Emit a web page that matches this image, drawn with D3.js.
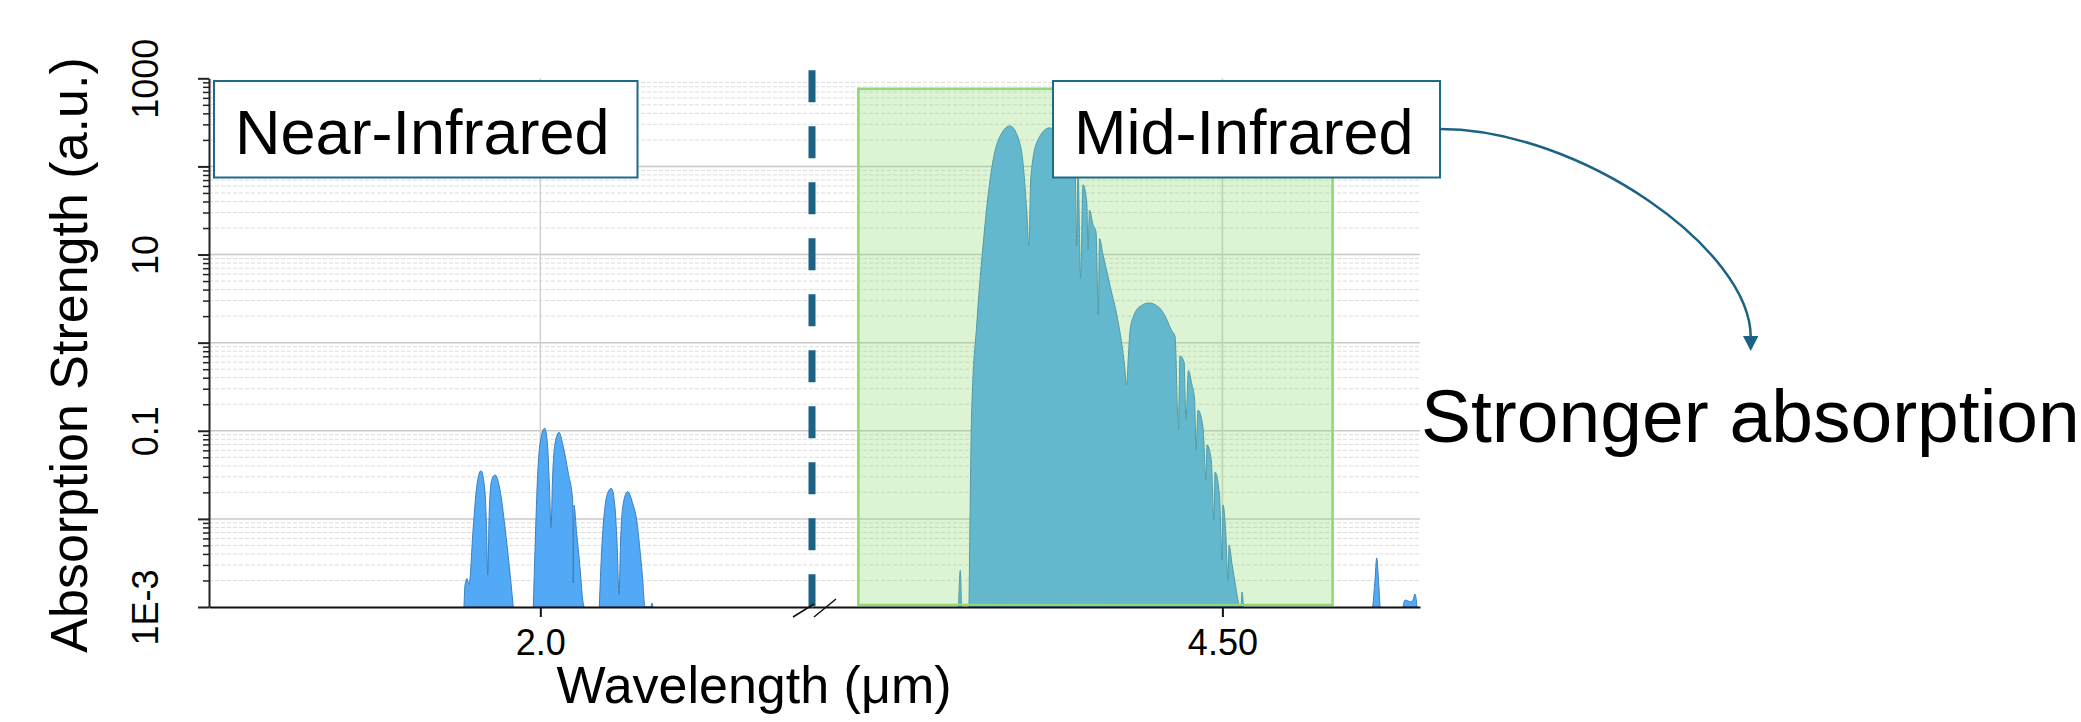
<!DOCTYPE html>
<html>
<head>
<meta charset="utf-8">
<script src="https://cdn.jsdelivr.net/npm/d3@7"></script>
<style>
  html, body { margin: 0; padding: 0; background: #fff; }
  svg { display: block; font-family: "Liberation Sans", Arial, sans-serif; }
</style>
</head>
<body>
<svg id="chart" width="2081" height="722"></svg>
<script>
// broken wavelength axis: near-IR segment | mid-IR segment (um)
var leftDomain = [1.75, 2.205];
var rightDomain = [3.96, 4.76];
var xTicksLeft = [2.0];
var xTicksRight = [4.5];

var yDecades = [1e-3, 1e-2, 1e-1, 1, 10, 100, 1000];
var yLabelValues = [1000, 10, 0.1, 0.001];
var yLabelTexts = ['1000', '10', '0.1', '1E-3'];

var midIrRange = [4.021, 4.645];
var highlightTop = 760;

// [wavelength um, absorption a.u.]
var nirBandA = [
  [1.9424, 0.001], [1.9432, 0.00178], [1.9447, 0.0021], [1.9462, 0.0018],
  [1.9494, 0.0081], [1.952, 0.0232], [1.9552, 0.0352], [1.9583, 0.0197],
  [1.9595, 0.0069], [1.9603, 0.0023], [1.9615, 0.0126], [1.9633, 0.0276],
  [1.9658, 0.0315], [1.9696, 0.0213], [1.9733, 0.0081], [1.9771, 0.00243],
  [1.9796, 0.001]
];
var nirBandB = [
  [1.9947, 0.001], [1.996, 0.00444], [1.9977, 0.0254], [1.9998, 0.0721],
  [2.0033, 0.107], [2.0053, 0.0721], [2.0068, 0.0254], [2.0081, 0.0079],
  [2.0091, 0.0254], [2.0111, 0.0721], [2.0141, 0.096], [2.0173, 0.066],
  [2.0211, 0.033], [2.0244, 0.0164], [2.0248, 0.00187], [2.0254, 0.0143],
  [2.0274, 0.0069], [2.0299, 0.00287], [2.032, 0.0012], [2.033, 0.001]
];
var nirBandC = [
  [2.0445, 0.001], [2.0463, 0.00444], [2.0488, 0.01375], [2.0513, 0.0204],
  [2.0536, 0.0222], [2.0563, 0.01375], [2.0581, 0.00444], [2.0594, 0.00137],
  [2.0606, 0.00576], [2.0626, 0.015], [2.0659, 0.0204], [2.0697, 0.015],
  [2.0727, 0.0097], [2.0752, 0.00444], [2.0769, 0.0024], [2.079, 0.001],
  [2.0834, 0.001], [2.0842, 0.00111], [2.085, 0.001]
];
var mirSpike = [[4.1528, 0.001], [4.1551, 0.0026], [4.1567, 0.001]];
var mirBand = [
  [4.1666, 0.001], [4.1679, 0.0097], [4.1699, 0.144], [4.1771, 1.76],
  [4.185, 12.5], [4.1934, 61.7], [4.2043, 190], [4.2205, 288],
  [4.2343, 172], [4.2425, 32], [4.2453, 12.6], [4.2479, 74],
  [4.2561, 190], [4.2725, 274], [4.2942, 158], [4.3021, 118],
  [4.306, 105], [4.3084, 12.6], [4.31, 95], [4.3134, 5.4],
  [4.3166, 62], [4.3216, 38.5], [4.3232, 11.3], [4.3251, 32],
  [4.3297, 22], [4.3337, 18], [4.3368, 2.06], [4.3383, 15.2],
  [4.3429, 9.9], [4.3488, 6.0], [4.3534, 3.96], [4.3597, 2.35],
  [4.3679, 0.925], [4.3712, 0.558], [4.3739, 0.331], [4.3764, 0.724],
  [4.3784, 1.36], [4.3837, 2.06], [4.3925, 2.61], [4.4034, 2.82],
  [4.4113, 2.7], [4.4197, 2.35], [4.4258, 1.91], [4.4334, 1.36],
  [4.4376, 1.19], [4.4422, 0.102], [4.4442, 0.706], [4.4495, 0.604],
  [4.4521, 0.133], [4.4553, 0.481], [4.46, 0.331], [4.4634, 0.23],
  [4.4653, 0.0605], [4.4679, 0.172], [4.4745, 0.108], [4.4784, 0.0276],
  [4.4797, 0.069], [4.4853, 0.0467], [4.4889, 0.0097], [4.4903, 0.034],
  [4.4962, 0.0183], [4.4995, 0.0034], [4.5008, 0.0144], [4.5043, 0.0073],
  [4.5074, 0.002], [4.5087, 0.00506], [4.5126, 0.00311], [4.5179, 0.00162],
  [4.5205, 0.0012], [4.5232, 0.001], [4.5245, 0.001], [4.5258, 0.00148],
  [4.5277, 0.001]
];
var mirTailA = [[4.6978, 0.001], [4.7008, 0.002], [4.703, 0.0036], [4.7054, 0.002], [4.7074, 0.001]];
var mirTailB = [
  [4.7376, 0.001], [4.7403, 0.0012], [4.7442, 0.00117], [4.7482, 0.00114],
  [4.7507, 0.0012], [4.7534, 0.0014], [4.7561, 0.001]
];

var svg = d3.select('#chart');
var axisX = 209, axisRight = 1420, breakX = 812;

var xLeft = d3.scaleLinear().domain(leftDomain).range([axisX, breakX]);
var xRight = d3.scaleLinear().domain(rightDomain).range([breakX, axisRight]);
var y = d3.scaleLog().domain([1e-3, 1e3]).range([607, 78.3]);

var minorValues = [];
yDecades.slice(0, -1).forEach(function(d) {
  for (var k = 2; k <= 9; k++) minorValues.push(d * k);
});

// grid
var grid = svg.append('g');
grid.selectAll('.minor').data(minorValues).enter().append('line')
  .attr('x1', axisX).attr('x2', axisRight)
  .attr('y1', function(d) { return y(d); }).attr('y2', function(d) { return y(d); })
  .attr('stroke', '#dcdcdc').attr('stroke-width', 1).attr('stroke-dasharray', '4,2');
grid.selectAll('.major').data(yDecades.slice(1, -1)).enter().append('line')
  .attr('x1', axisX).attr('x2', axisRight)
  .attr('y1', function(d) { return y(d); }).attr('y2', function(d) { return y(d); })
  .attr('stroke', '#c8c8c8').attr('stroke-width', 1.5);
grid.selectAll('.vgrid')
  .data(xTicksLeft.map(xLeft).concat(xTicksRight.map(xRight)))
  .enter().append('line')
  .attr('x1', function(d) { return d; }).attr('x2', function(d) { return d; })
  .attr('y1', y(1e3)).attr('y2', y(1e-3))
  .attr('stroke', '#d0d0d0').attr('stroke-width', 1.5);

// spectra
function makeArea(xs) {
  return d3.area()
    .x(function(d) { return xs(d[0]); })
    .y0(y(1e-3))
    .y1(function(d) { return y(d[1]); })
    .curve(d3.curveMonotoneX);
}
var spectra = svg.append('g');
[nirBandA, nirBandB, nirBandC].forEach(function(band) {
  spectra.append('path').datum(band).attr('d', makeArea(xLeft))
    .attr('fill', '#52aaf7').attr('stroke', '#3a7fc0').attr('stroke-width', 1);
});
[mirSpike, mirBand, mirTailA, mirTailB].forEach(function(band) {
  spectra.append('path').datum(band).attr('d', makeArea(xRight))
    .attr('fill', '#52aaf7').attr('stroke', '#3a7fc0').attr('stroke-width', 1);
});

// mid-IR highlight
svg.append('rect')
  .attr('x', xRight(midIrRange[0]))
  .attr('y', y(highlightTop))
  .attr('width', xRight(midIrRange[1]) - xRight(midIrRange[0]))
  .attr('height', y(1e-3) - 2 - y(highlightTop))
  .attr('fill', 'rgba(140,220,110,0.3)')
  .attr('stroke', '#8fd873').attr('stroke-width', 2.5);

// divider at the axis break
svg.append('line')
  .attr('x1', breakX).attr('x2', breakX)
  .attr('y1', y(1e3) - 8).attr('y2', y(1e-3))
  .attr('stroke', '#1a6384').attr('stroke-width', 7)
  .attr('stroke-dasharray', '32,24');

// axes
var yAxisMinor = svg.append('g').attr('transform', 'translate(' + axisX + ',0)')
  .call(d3.axisLeft(y).tickValues(minorValues).tickSize(6).tickFormat(''));
yAxisMinor.select('.domain').remove();
yAxisMinor.selectAll('line').attr('stroke', '#222').attr('stroke-width', 1.5);

var yAxis = svg.append('g').attr('transform', 'translate(' + axisX + ',0)')
  .call(d3.axisLeft(y).tickValues(yDecades).tickSize(11).tickSizeOuter(0)
    .tickFormat(function(d) {
      var i = yLabelValues.findIndex(function(v) { return Math.abs(Math.log10(v) - Math.log10(d)) < 1e-6; });
      return i >= 0 ? yLabelTexts[i] : '';
    }));
yAxis.select('.domain').attr('stroke', '#222').attr('stroke-width', 2);
yAxis.selectAll('line').attr('stroke', '#222').attr('stroke-width', 2);
yAxis.selectAll('text')
  .attr('transform', 'rotate(-90)')
  .attr('x', 0).attr('y', -51).attr('dy', null)
  .attr('text-anchor', 'middle')
  .attr('font-size', 36).attr('font-family', '"Liberation Sans", Arial, sans-serif')
  .attr('fill', '#000');

function styleX(g) {
  g.select('.domain').attr('stroke', '#111').attr('stroke-width', 2);
  g.selectAll('line').attr('stroke', '#111').attr('stroke-width', 2);
  g.selectAll('text').attr('y', 48).attr('dy', null)
    .attr('font-size', 36).attr('font-family', '"Liberation Sans", Arial, sans-serif')
    .attr('fill', '#000');
}
svg.append('g').attr('transform', 'translate(0,' + y(1e-3) + ')')
  .call(d3.axisBottom(xLeft).tickValues(xTicksLeft).tickFormat(d3.format('.1f')).tickSize(10).tickSizeOuter(0))
  .call(styleX);
svg.append('g').attr('transform', 'translate(0,' + y(1e-3) + ')')
  .call(d3.axisBottom(xRight).tickValues(xTicksRight).tickFormat(d3.format('.2f')).tickSize(10).tickSizeOuter(0))
  .call(styleX);

// break marks
var by = y(1e-3);
svg.append('path')
  .attr('d', 'M' + (breakX - 19) + ',' + (by + 10) + 'L' + (breakX + 2) + ',' + (by - 3) +
             'M' + (breakX + 2) + ',' + (by + 10) + 'L' + (breakX + 24) + ',' + (by - 8))
  .attr('stroke', '#111').attr('stroke-width', 1.5).attr('fill', 'none');

// labels in boxes
function labelBox(x, yTop, w, h, text) {
  svg.append('rect').attr('x', x).attr('y', yTop).attr('width', w).attr('height', h)
    .attr('fill', '#fff').attr('stroke', '#1f6a8a').attr('stroke-width', 2);
  svg.append('text').attr('x', x + 21).attr('y', yTop + 72.5)
    .attr('font-size', 63).attr('fill', '#000').text(text);
}
labelBox(214, 81, 423.5, 96.5, 'Near-Infrared');
labelBox(1053, 81, 387, 96.5, 'Mid-Infrared');

// arrow
svg.append('path')
  .attr('d', 'M1440,129 C1580,129 1752,250 1750.7,338')
  .attr('fill', 'none').attr('stroke', '#1a6384').attr('stroke-width', 2.5);
svg.append('path')
  .attr('d', 'M1743,336 L1758.4,336 L1750.7,351 Z')
  .attr('fill', '#1a6384');

svg.append('text').attr('x', 1421).attr('y', 442)
  .attr('font-size', 75).attr('fill', '#000').text('Stronger absorption');

// axis titles
svg.append('text')
  .attr('transform', 'translate(87,355) rotate(-90)')
  .attr('text-anchor', 'middle').attr('font-size', 52).attr('fill', '#000')
  .text('Absorption Strength (a.u.)');
svg.append('text').attr('x', 754).attr('y', 703)
  .attr('text-anchor', 'middle').attr('font-size', 52).attr('fill', '#000')
  .text('Wavelength (μm)');
</script>
</body>
</html>
